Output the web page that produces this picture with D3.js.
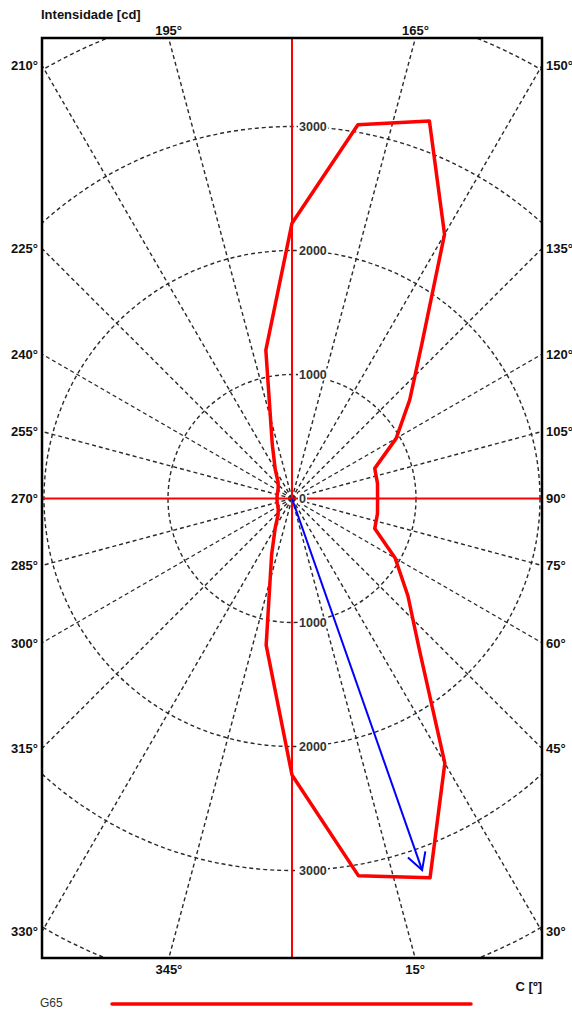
<!DOCTYPE html>
<html>
<head>
<meta charset="utf-8">
<script src="https://cdn.jsdelivr.net/npm/d3@7"></script>
<style>
  html, body { margin: 0; padding: 0; background: #fff; }
  svg { display: block; font-family: "Liberation Sans", Arial, sans-serif; }
</style>
</head>
<body>
<svg id="chart" width="572" height="1011"></svg>
<script>
// ---- data ----
const cAngles = [0,10,20,30,40,50,60,70,80,90,100,110,120,130,140,150,160,170,
                 180,190,200,210,220,230,240,250,260,270,280,290,300,310,320,330,340,350];
const intensity = [2230,3090,3255,2465,1600,1220,960,710,700,690,700,710,970,1240,1630,2460,3240,3060,
                   2220,1215,465,270,175,145,130,125,122,121,122,125,130,145,175,270,480,1200];
const radialTicks = [0,1000,2000,3000,4000];
const angleTicks = [15,30,45,60,75,90,105,120,135,150,165,195,210,225,240,255,270,285,300,315,330,345];
const maxC = 19.3;
const maxI = 3175;
const seriesName = "G65";
const titleText = "Intensidade [cd]";
const axisText = "C [º]";

// ---- layout ----
const svg = d3.select("#chart");
const box = {x0: 42, x1: 542, y0: 38, y1: 958};
const cx = 292, cy = 498.5;
const r = d3.scaleLinear().domain([0, 4000]).range([0, 496]);
const rad = d => d * Math.PI / 180;
const px = (a, v) => cx + r(v) * Math.sin(rad(a));
const py = (a, v) => cy + r(v) * Math.cos(rad(a));

svg.append("defs").append("clipPath").attr("id", "clip")
  .append("rect").attr("x", box.x0).attr("y", box.y0)
  .attr("width", box.x1 - box.x0).attr("height", box.y1 - box.y0);

const plot = svg.append("g").attr("clip-path", "url(#clip)");
const gridStyle = s => s.attr("fill", "none").attr("stroke", "#2a2a2a")
  .attr("stroke-width", 1.4).attr("stroke-dasharray", "4,3");

// circles
plot.selectAll("circle.grid").data(radialTicks.filter(d => d > 0)).join("circle")
  .attr("class", "grid").attr("cx", cx).attr("cy", cy).attr("r", d => r(d))
  .call(gridStyle);

// radial lines every 15 degrees
const spokes = d3.range(0, 360, 15).filter(a => a % 90 !== 0);
plot.selectAll("line.spoke").data(spokes).join("line")
  .attr("class", "spoke")
  .attr("x1", cx).attr("y1", cy)
  .attr("x2", a => px(a, 6000)).attr("y2", a => py(a, 6000))
  .call(gridStyle);

// red axes
plot.append("line").attr("x1", cx).attr("x2", cx).attr("y1", box.y0).attr("y2", box.y1)
  .attr("stroke", "#ff0000").attr("stroke-width", 2);
plot.append("line").attr("x1", box.x0).attr("x2", box.x1).attr("y1", cy).attr("y2", cy)
  .attr("stroke", "#ff0000").attr("stroke-width", 2);

// radius labels (with white background)
const rLabels = [];
radialTicks.forEach(v => {
  if (v === 0) rLabels.push({v, y: cy});
  else { rLabels.push({v, y: cy - r(v)}); rLabels.push({v, y: cy + r(v)}); }
});
const rl = plot.selectAll("g.rl").data(rLabels.filter(d => d.y > box.y0 + 8 && d.y < box.y1 - 8)).join("g")
  .attr("class", "rl").attr("transform", d => `translate(${cx + 7},${d.y})`);
rl.append("rect").attr("x", -1).attr("y", -6)
  .attr("width", d => String(d.v).length * 7 + 2).attr("height", 12).attr("fill", "#fff");
rl.append("text").attr("dy", "0.36em").attr("font-size", 12.5).attr("font-weight", "bold")
  .attr("fill", "#333").text(d => d.v);

// photometric curve
const curve = d3.lineRadial()
  .angle(d => Math.PI - rad(d[0]))
  .radius(d => r(d[1]))
  .curve(d3.curveLinearClosed);
plot.append("path")
  .attr("transform", `translate(${cx},${cy})`)
  .attr("d", curve(cAngles.map((a, i) => [a, intensity[i]])))
  .attr("fill", "none").attr("stroke", "#ff0000").attr("stroke-width", 3.5)
  .attr("stroke-linejoin", "round");

// max arrow
const tx = px(maxC, maxI), ty = py(maxC, maxI);
const back = Math.atan2(cy - ty, cx - tx);
const headLen = 19, headAng = rad(29);
plot.append("line").attr("x1", cx).attr("y1", cy).attr("x2", tx).attr("y2", ty)
  .attr("stroke", "#0000ff").attr("stroke-width", 2);
plot.append("path")
  .attr("d", `M${tx + headLen * Math.cos(back + headAng)},${ty + headLen * Math.sin(back + headAng)}L${tx},${ty}L${tx + headLen * Math.cos(back - headAng)},${ty + headLen * Math.sin(back - headAng)}`)
  .attr("fill", "none").attr("stroke", "#0000ff").attr("stroke-width", 2);

// frame
svg.append("rect").attr("x", box.x0).attr("y", box.y0)
  .attr("width", box.x1 - box.x0).attr("height", box.y1 - box.y0)
  .attr("fill", "none").attr("stroke", "#000").attr("stroke-width", 2.5);

// angle labels at box edge
angleTicks.forEach(a => {
  const s = Math.sin(rad(a)), c = Math.cos(rad(a));
  const tX = s > 0 ? (box.x1 - cx) / s : s < 0 ? (box.x0 - cx) / s : Infinity;
  const tY = c > 0 ? (box.y1 - cy) / c : c < 0 ? (box.y0 - cy) / c : Infinity;
  const t = Math.min(tX, tY);
  const ex = cx + t * s, ey = cy + t * c;
  const txt = svg.append("text").attr("font-size", 13).attr("font-weight", "bold")
    .attr("fill", "#111").text(a + "°");
  if (tX < tY) {
    txt.attr("x", s > 0 ? box.x1 + 4 : box.x0 - 4).attr("y", ey).attr("dy", "0.36em")
       .attr("text-anchor", s > 0 ? "start" : "end");
  } else {
    txt.attr("x", ex).attr("y", c > 0 ? box.y1 + 11 : box.y0 - 8).attr("dy", "0.36em")
       .attr("text-anchor", "middle");
  }
});

// titles
svg.append("text").attr("x", 41).attr("y", 14).attr("dy", "0.36em")
  .attr("font-size", 13).attr("font-weight", "bold").attr("fill", "#111").text(titleText);
svg.append("text").attr("x", box.x1).attr("y", 986).attr("dy", "0.36em").attr("text-anchor", "end")
  .attr("font-size", 13).attr("font-weight", "bold").attr("fill", "#111").text(axisText);

// legend
svg.append("text").attr("x", 40).attr("y", 1003).attr("dy", "0.36em")
  .attr("font-size", 12).attr("fill", "#333").text(seriesName);
svg.append("line").attr("x1", 112).attr("x2", 471).attr("y1", 1004).attr("y2", 1004)
  .attr("stroke", "#ff0000").attr("stroke-width", 3.5).attr("stroke-linecap", "round");
</script>
</body>
</html>
